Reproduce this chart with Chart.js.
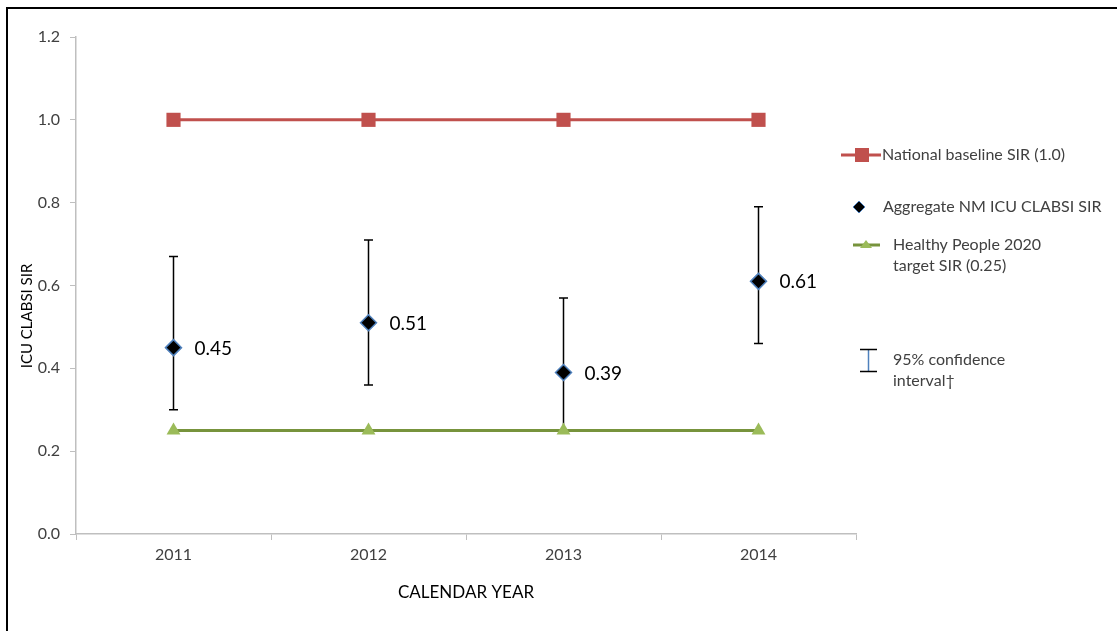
<!DOCTYPE html>
<html>
<head>
<meta charset="utf-8">
<script src="https://cdn.jsdelivr.net/npm/chart.js@4.4.1/dist/chart.umd.min.js"></script>
<style>
  html, body { margin: 0; padding: 0; background: #fff; }
  #wrap { position: relative; width: 1117px; height: 631px; overflow: hidden; }
  #frame { position: absolute; left: 6px; top: 7px; width: 1200px; height: 700px;
           border-left: 2px solid #000; border-top: 2px solid #000; }
  canvas { position: absolute; left: 0; top: 0; }
</style>
</head>
<body>
<div id="wrap">
  <div id="frame"></div>
  <canvas id="c" width="1117" height="631"></canvas>
</div>
<script>
// ---- data ----
const years = ['2011', '2012', '2013', '2014'];
const baselineSIR = [1.0, 1.0, 1.0, 1.0];
const aggregateSIR = [0.45, 0.51, 0.39, 0.61];
const ciLow = [0.30, 0.36, 0.25, 0.46];
const ciHigh = [0.67, 0.71, 0.57, 0.79];
const targetSIR = [0.25, 0.25, 0.25, 0.25];
const yTicks = [0.0, 0.2, 0.4, 0.6, 0.8, 1.0, 1.2];

const seriesNames = ['National baseline SIR (1.0)', 'Aggregate NM ICU CLABSI SIR', 'Healthy People 2020 target SIR (0.25)'];
const yTitle = 'ICU CLABSI SIR';
const xTitle = 'CALENDAR YEAR';

const FONT = 'Lato, "Open Sans", sans-serif';
const TXT = '#404040';
const RED = '#C0504D';
const GREEN = '#77933C';
const GREEN_M = '#9BBB59';
const BLUE = '#4F81BD';

// error bars + data labels + y title
const errorBarPlugin = {
  id: 'errorBars',
  beforeDatasetsDraw(chart) {
    const ctx = chart.ctx;
    const x = chart.scales.x, y = chart.scales.y;
    ctx.save();
    ctx.strokeStyle = '#000';
    ctx.lineWidth = 1.5;
    years.forEach((yr, i) => {
      const px = x.getPixelForValue(i);
      const top = y.getPixelForValue(ciHigh[i]);
      const bot = y.getPixelForValue(ciLow[i]);
      ctx.beginPath();
      ctx.moveTo(px, top); ctx.lineTo(px, bot);
      ctx.moveTo(px - 4.5, top); ctx.lineTo(px + 4.5, top);
      ctx.moveTo(px - 4.5, bot); ctx.lineTo(px + 4.5, bot);
      ctx.stroke();
    });
    ctx.restore();
    // y axis title (placed as in the reference, below the plot centre)
    ctx.save();
    ctx.translate(27, 316);
    ctx.rotate(-Math.PI / 2);
    ctx.font = '15px ' + FONT;
    ctx.fillStyle = '#000';
    ctx.textAlign = 'center';
    ctx.textBaseline = 'middle';
    ctx.fillText(yTitle, 0, 0);
    ctx.restore();
  },
  afterDatasetsDraw(chart) {
    const ctx = chart.ctx;
    const meta = chart.getDatasetMeta(1);
    ctx.save();
    ctx.font = '19px ' + FONT;
    ctx.fillStyle = '#000';
    ctx.textBaseline = 'middle';
    ctx.textAlign = 'left';
    meta.data.forEach((pt, i) => {
      ctx.fillText(aggregateSIR[i].toFixed(2), pt.x + 21, pt.y + 1);
    });
    ctx.restore();
  }
};

// custom legend drawn at right
const legendPlugin = {
  id: 'sideLegend',
  afterDraw(chart) {
    const ctx = chart.ctx;
    ctx.save();
    ctx.font = '16px ' + FONT;
    ctx.fillStyle = TXT;
    ctx.textBaseline = 'middle';
    ctx.textAlign = 'left';
    // 1 national baseline
    ctx.strokeStyle = RED; ctx.lineWidth = 3;
    ctx.beginPath(); ctx.moveTo(841, 155); ctx.lineTo(881, 155); ctx.stroke();
    ctx.fillStyle = RED; ctx.fillRect(855, 148, 14, 14);
    ctx.fillStyle = TXT;
    ctx.fillText(seriesNames[0], 882, 155);
    // 2 aggregate diamond
    ctx.beginPath();
    ctx.moveTo(859, 201); ctx.lineTo(865, 207); ctx.lineTo(859, 213); ctx.lineTo(853, 207); ctx.closePath();
    ctx.fillStyle = '#000'; ctx.fill();
    ctx.strokeStyle = BLUE; ctx.lineWidth = 1; ctx.stroke();
    ctx.fillStyle = TXT;
    ctx.fillText(seriesNames[1], 883, 207);
    // 3 target
    ctx.strokeStyle = GREEN; ctx.lineWidth = 3;
    ctx.beginPath(); ctx.moveTo(853, 245); ctx.lineTo(880, 245); ctx.stroke();
    ctx.fillStyle = GREEN_M;
    ctx.beginPath(); ctx.moveTo(866, 240); ctx.lineTo(872, 248); ctx.lineTo(860, 248); ctx.closePath(); ctx.fill();
    ctx.fillStyle = TXT;
    ctx.fillText('Healthy People 2020', 893, 245);
    ctx.fillText('target SIR (0.25)', 893, 266);
    // 4 CI symbol
    ctx.strokeStyle = BLUE; ctx.lineWidth = 1.5;
    ctx.beginPath(); ctx.moveTo(868.5, 350); ctx.lineTo(868.5, 371); ctx.stroke();
    ctx.strokeStyle = '#000'; ctx.lineWidth = 1.5;
    ctx.beginPath();
    ctx.moveTo(860, 349.5); ctx.lineTo(877, 349.5);
    ctx.moveTo(860, 371.5); ctx.lineTo(877, 371.5);
    ctx.stroke();
    ctx.fillStyle = TXT;
    ctx.fillText('95% confidence', 893, 360);
    ctx.fillText('interval\u2020', 893, 381);
    ctx.restore();
  }
};

new Chart(document.getElementById('c'), {
  type: 'line',
  data: {
    labels: years,
    datasets: [
      {
        label: seriesNames[0],
        data: baselineSIR,
        borderColor: RED,
        backgroundColor: RED,
        borderWidth: 3,
        pointStyle: 'rect',
        pointRadius: 10,
        pointBorderWidth: 0,
        order: 3
      },
      {
        label: seriesNames[1],
        data: aggregateSIR,
        showLine: false,
        borderColor: BLUE,
        backgroundColor: '#000',
        pointStyle: 'rectRot',
        pointRadius: 8,
        pointBorderWidth: 1.5,
        order: 1
      },
      {
        label: seriesNames[2],
        data: targetSIR,
        borderColor: GREEN,
        backgroundColor: GREEN_M,
        pointBackgroundColor: GREEN_M,
        pointBorderColor: GREEN_M,
        borderWidth: 3,
        pointStyle: 'triangle',
        pointRadius: 8,
        pointBorderWidth: 0,
        order: 2
      }
    ]
  },
  options: {
    responsive: false,
    animation: false,
    layout: { padding: { left: 0, right: 261, top: 37, bottom: 0 } },
    plugins: {
      legend: { display: false },
      tooltip: { enabled: false }
    },
    scales: {
      x: {
        type: 'category',
        offset: true,
        afterFit(scale) { scale.height = 97; },
        grid: { offset: true, drawOnChartArea: false, drawTicks: true, tickLength: 6, color: '#bfbfbf' },
        border: { color: '#bfbfbf', width: 1.5 },
        ticks: { color: TXT, font: { family: FONT, size: 16 }, padding: 5 },
        title: { display: true, text: xTitle, color: '#000', font: { family: FONT, size: 17 }, padding: { top: 28, bottom: 28 } }
      },
      y: {
        min: 0, max: 1.2,
        afterFit(scale) { scale.width = 76; },
        afterBuildTicks(scale) { scale.ticks = yTicks.map(v => ({ value: v })); },
        grid: { drawOnChartArea: false, drawTicks: true, tickLength: 6, color: '#bfbfbf' },
        border: { color: '#bfbfbf', width: 1.5 },
        ticks: { color: TXT, font: { family: FONT, size: 16 }, padding: 10, callback: v => Number(v).toFixed(1) },
        title: { display: false, text: yTitle }
      }
    }
  },
  plugins: [errorBarPlugin, legendPlugin]
});
</script>
</body>
</html>
